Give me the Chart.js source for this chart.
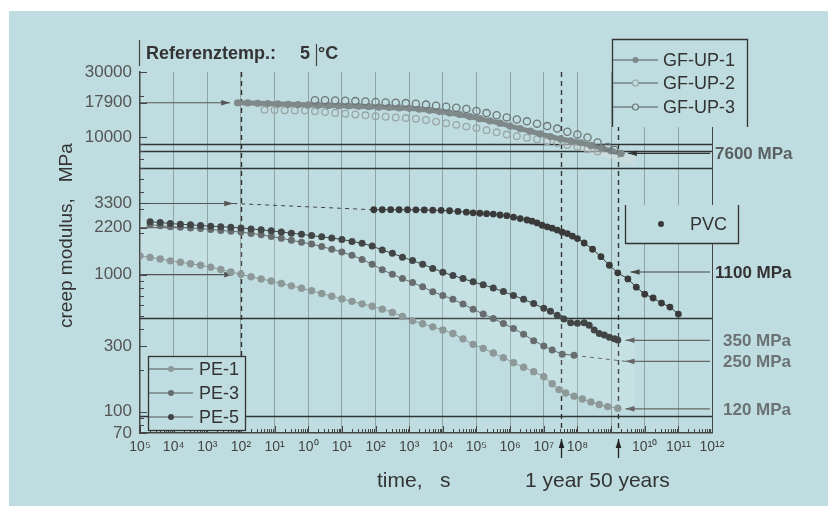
<!DOCTYPE html>
<html>
<head>
<meta charset="utf-8">
<title>Creep modulus</title>
<script src="https://cdn.jsdelivr.net/npm/chart.js@4.4.1/dist/chart.umd.min.js"></script>
<style>
  html, body { margin: 0; padding: 0; background: #fff; }
  #wrap { width: 828px; height: 507px; }
</style>
</head>
<body>
<div id="wrap"><canvas id="creepChart" width="828" height="507"></canvas></div>
<script>
// x values are log10(time in s), y values are creep modulus in MPa
const X_TICK_LABELS = ['10⁵','10⁴','10³','10²','10¹','10⁰','10¹','10²','10³','10⁴','10⁵','10⁶','10⁷','10⁸','','10¹⁰','10¹¹','10¹²'];
const Y_TICKS = [70, 100, 300, 1000, 2200, 3300, 10000, 17900, 30000];

const GF_UP_1 = [
  [-2.1,17900],[-1.8,17850],[-1.5,17750],[-1.2,17650],[-0.9,17550],[-0.6,17450],[-0.3,17350],
  [0.0,17300],[0.3,17200],[0.6,17100],[0.9,17000],[1.2,16950],[1.5,16850],[1.8,16750],[2.1,16650],
  [2.4,16550],[2.7,16400],[3.0,16300],[3.3,16050],[3.6,15800],[3.9,15450],[4.2,15050],[4.5,14700],
  [4.8,14200],[5.1,13700],[5.4,13200],[5.7,12700],[6.0,12100],[6.3,11600],[6.6,11100],[6.9,10600],
  [7.2,10150],[7.5,9750],[7.8,9450],[8.1,9150],[8.4,8750],[8.7,8400],[9.0,8000],[9.3,7650]
];
const GF_UP_2 = [
  [-1.3,15900],[-1.0,15850],[-0.7,15800],[-0.4,15750],[-0.1,15700],[0.2,15500],[0.5,15300],
  [0.8,15100],[1.1,14900],[1.4,14700],[1.7,14500],[2.0,14300],[2.3,14150],[2.6,14000],[2.9,13850],
  [3.2,13700],[3.5,13400],[3.8,13050],[4.1,12700],[4.4,12350],[4.7,12000],[5.0,11700],[5.3,11300],
  [5.6,10900],[5.9,10500],[6.2,10200],[6.5,9950],[6.8,9700],[7.1,9400],[7.4,9100],[7.7,8800],
  [8.0,8500],[8.3,8200],[8.6,7900]
];
const GF_UP_3 = [
  [0.2,18700],[0.5,18650],[0.8,18600],[1.1,18500],[1.4,18400],[1.7,18300],[2.0,18150],[2.3,18000],
  [2.6,17900],[2.9,17800],[3.2,17600],[3.5,17350],[3.8,17050],[4.1,16750],[4.4,16450],[4.7,16100],
  [5.0,15600],[5.3,15050],[5.6,14500],[5.9,14000],[6.2,13500],[6.5,13100],[6.8,12600],[7.1,12100],
  [7.4,11600],[7.7,11000],[8.0,10500],[8.3,10000],[8.6,9200],[8.9,8500],[9.1,8100]
];
const PVC = [
  [1.95,2970],[2.2,2970],[2.45,2975],[2.7,2970],[2.95,2970],[3.2,2965],[3.45,2960],[3.7,2950],
  [3.95,2940],[4.2,2920],[4.45,2890],[4.7,2850],[4.9,2820],[5.1,2800],[5.3,2780],[5.5,2760],
  [5.7,2720],[5.9,2690],[6.1,2620],[6.3,2560],[6.5,2500],[6.65,2450],[6.8,2380],[6.95,2290],
  [7.1,2230],[7.25,2180],[7.4,2110],[7.55,2040],[7.7,1990],[7.85,1910],[8.0,1830],[8.2,1700],
  [8.45,1530],[8.7,1350],[8.95,1170],[9.2,1030],[9.5,930],[9.75,810],[10.0,720],[10.25,675],
  [10.5,620],[10.75,580],[11.0,515]
];
const PE_1 = [
  [-5.0,1370],[-4.7,1335],[-4.4,1300],[-4.1,1260],[-3.8,1230],[-3.5,1200],[-3.2,1170],[-2.9,1130],
  [-2.6,1090],[-2.3,1045],[-2.0,1005],[-1.7,965],[-1.4,930],[-1.1,898],[-0.8,862],[-0.5,828],
  [-0.2,795],[0.1,762],[0.4,728],[0.7,695],[1.0,665],[1.3,638],[1.6,612],[1.9,588],[2.2,560],
  [2.5,530],[2.8,495],[3.1,460],[3.4,438],[3.7,416],[4.0,395],[4.3,372],[4.6,340],[4.9,310],
  [5.2,290],[5.5,268],[5.8,248],[6.1,228],[6.4,211],[6.7,196],[7.0,180],[7.25,160],[7.45,145],
  [7.65,137],[7.9,130],[8.15,124],[8.4,118],[8.65,113],[8.9,109],[9.2,106]
];
const PE_3 = [
  [-4.7,2310],[-4.4,2275],[-4.1,2235],[-3.8,2215],[-3.5,2190],[-3.2,2165],[-2.9,2130],[-2.6,2100],
  [-2.3,2070],[-2.0,2045],[-1.7,1995],[-1.4,1950],[-1.1,1895],[-0.8,1840],[-0.5,1780],[-0.2,1720],
  [0.1,1670],[0.4,1600],[0.7,1530],[1.0,1460],[1.3,1385],[1.6,1290],[1.9,1190],[2.2,1085],
  [2.5,1005],[2.8,935],[3.1,875],[3.4,815],[3.7,750],[4.0,705],[4.3,660],[4.6,610],[4.9,560],
  [5.2,515],[5.5,478],[5.8,440],[6.1,405],[6.4,368],[6.7,330],[7.0,302],[7.25,282],[7.55,263],[7.9,258]
];
const PE_5 = [
  [-4.7,2430],[-4.4,2400],[-4.1,2355],[-3.8,2330],[-3.5,2305],[-3.2,2280],[-2.9,2255],[-2.6,2235],
  [-2.3,2210],[-2.0,2190],[-1.7,2150],[-1.4,2120],[-1.1,2085],[-0.8,2045],[-0.5,2005],[-0.2,1965],
  [0.1,1925],[0.4,1885],[0.7,1845],[1.0,1805],[1.3,1745],[1.6,1690],[1.9,1615],[2.2,1510],
  [2.5,1430],[2.8,1340],[3.1,1265],[3.4,1190],[3.7,1110],[4.0,1040],[4.3,985],[4.6,935],[4.9,885],
  [5.2,842],[5.5,800],[5.8,752],[6.1,705],[6.4,660],[6.7,615],[7.0,568],[7.2,540],[7.4,505],
  [7.6,475],[7.8,445],[8.0,442],[8.2,446],[8.35,428],[8.5,395],[8.65,372],[8.8,362],[8.95,350],
  [9.1,340],[9.2,333]
];

// shaded scatter bands
const PE_BAND_TOP = [[-5,2450],[-2,2230],[0,1980],[2,1560],[4,1040],[6,690],[7.5,490],[8.5,400],[9.7,350]];
const PE_BAND_BOTTOM = [[-5,1340],[-2,1000],[0,770],[2,575],[4,395],[6,232],[7.5,140],[8.5,116],[9.7,101]];
const GF_BAND_TOP = [[7.0,10300],[8.0,9000],[9.0,8000],[9.7,7400]];
const GF_BAND_BOTTOM = [[7.0,9500],[8.0,8200],[9.0,7000],[9.7,6300]];

// annotations
const REF_LINES = [8900, 7900, 5950, 480, 93.5];
const DASHED_TIMES = [-2, 7.5, 9.2];
const ARROW_TIMES = [7.5, 9.2];
const LEFT_ARROWS = [[17900, -2.32], [3300, -2.23], [1000, -2.23]];
const RIGHT_LABELS = ['7600 MPa', '1100 MPa', '350 MPa', '250 MPa', '120 MPa'];
const RIGHT_LEVELS = [7660, 1045, 332, 233, 105];
const RIGHT_TIPS = [9.5, 9.58, 9.43, 9.43, 9.43];

const PANEL = '#bfdde0';
const FONT = '"Liberation Sans", Arial, sans-serif';
const RIGHT_STYLE = [
  { x: 715, color: '#5a6061', arrow: '#333' },
  { x: 715, color: '#333333', arrow: '#444' },
  { x: 723, color: '#6b7273', arrow: '#666' },
  { x: 723, color: '#6b7273', arrow: '#666' },
  { x: 723, color: '#6b7273', arrow: '#666' }
];

const pts = arr => arr.map(([t, e]) => ({ x: t, y: e }));

function dotSeries(label, data, color, radius, line) {
    return {
        label, data: pts(data),
        showLine: line, borderColor: color, borderWidth: 1,
        pointRadius: radius, pointBackgroundColor: color, pointBorderColor: color, pointBorderWidth: 0
    };
}
function ringSeries(label, data, color, radius) {
    return {
        label, data: pts(data), showLine: false,
        pointRadius: radius, pointBackgroundColor: 'rgba(0,0,0,0)', pointBorderColor: color, pointBorderWidth: 1.3
    };
}
function band(data, fill, color) {
    return {
        label: 'band', data: pts(data), borderWidth: 0, borderColor: 'rgba(0,0,0,0)',
        pointRadius: 0, fill, backgroundColor: color, order: 10
    };
}

const gf1 = dotSeries('GF-UP-1', GF_UP_1, '#7f8989', 3.6, true);
gf1.borderWidth = 5;

const datasets = [
    dotSeries('PE-5', PE_5, '#414545', 3.5, true),
    dotSeries('PE-3', PE_3, '#676d6e', 3.5, true),
    dotSeries('PE-1', PE_1, '#8d9898', 3.7, true),
    dotSeries('PVC', PVC, '#3a3a3a', 3.4, true),
    ringSeries('GF-UP-3', GF_UP_3, '#6c7676', 3.6),
    gf1,
    ringSeries('GF-UP-2', GF_UP_2, '#9aa5a5', 3.3),
    band(PE_BAND_BOTTOM, false, 'rgba(0,0,0,0)'),
    band(PE_BAND_TOP, '-1', 'rgba(255,255,255,0.12)'),
    band(GF_BAND_BOTTOM, false, 'rgba(0,0,0,0)'),
    band(GF_BAND_TOP, '-1', 'rgba(214,219,219,0.55)')
];

function seg(c, x1, y1, x2, y2) {
    c.beginPath(); c.moveTo(x1, y1); c.lineTo(x2, y2); c.stroke();
}
function arrow(c, x1, y1, x2, y2) {
    seg(c, x1, y1, x2, y2);
    const a = Math.atan2(y2 - y1, x2 - x1), L = 9, W = 2.8;
    c.beginPath();
    c.moveTo(x2, y2);
    c.lineTo(x2 - L * Math.cos(a) + W * Math.sin(a), y2 - L * Math.sin(a) - W * Math.cos(a));
    c.lineTo(x2 - L * Math.cos(a) - W * Math.sin(a), y2 - L * Math.sin(a) + W * Math.cos(a));
    c.closePath(); c.fill();
}
function legendItem(c, ds, x1, x2, y, textX, ring) {
    c.strokeStyle = '#555'; c.lineWidth = 1;
    seg(c, x1, y, x2, y);
    const mx = (x1 + x2) / 2;
    c.beginPath(); c.arc(mx, y, 3, 0, Math.PI * 2);
    if (ring) {
        c.fillStyle = PANEL; c.fill();
        c.strokeStyle = ds.pointBorderColor; c.lineWidth = 1.2; c.stroke();
    } else {
        c.fillStyle = ds.pointBackgroundColor; c.fill();
    }
    c.fillStyle = '#333'; c.font = '18px ' + FONT; c.textBaseline = 'middle'; c.textAlign = 'left';
    c.fillText(ds.label, textX, y + 1);
}

const decor = {
    id: 'decor',
    beforeDraw(chart) {
        const c = chart.ctx;
        c.save();
        c.fillStyle = '#ffffff'; c.fillRect(0, 0, chart.width, chart.height);
        c.fillStyle = PANEL; c.fillRect(9, 11, chart.width - 9, chart.height - 12);
        c.restore();
    },
    beforeDatasetsDraw(chart) {
        const { ctx: c, scales: { x, y }, chartArea: a } = chart;
        c.save();
        c.strokeStyle = '#2f3434'; c.lineWidth = 1.3;
        REF_LINES.forEach(v => {
            const py = Math.round(y.getPixelForValue(v)) + 0.5;
            seg(c, a.left, py, a.right, py);
        });
        c.setLineDash([5, 4]); c.strokeStyle = '#333'; c.lineWidth = 1.4;
        DASHED_TIMES.forEach(t => {
            const px = Math.round(x.getPixelForValue(t)) + 0.5;
            seg(c, px, a.top, px, a.bottom);
        });
        // dashed continuations
        c.setLineDash([4, 4]); c.lineWidth = 1; c.strokeStyle = '#444';
        seg(c, x.getPixelForValue(LEFT_ARROWS[1][1]), y.getPixelForValue(LEFT_ARROWS[1][0]),
            x.getPixelForValue(PVC[0][0]), y.getPixelForValue(PVC[0][1]));
        const peEnd = PE_3[PE_3.length - 1];
        c.strokeStyle = '#555';
        seg(c, x.getPixelForValue(peEnd[0]), y.getPixelForValue(peEnd[1]),
            x.getPixelForValue(RIGHT_TIPS[3]), y.getPixelForValue(RIGHT_LEVELS[3]));
        c.setLineDash([]);
        // left arrows and 2200 line
        c.strokeStyle = '#555'; c.fillStyle = '#555'; c.lineWidth = 1.2;
        LEFT_ARROWS.forEach(([v, t]) => {
            const py = y.getPixelForValue(v);
            arrow(c, a.left, py, x.getPixelForValue(t), py);
        });
        const p2200 = y.getPixelForValue(2200);
        seg(c, a.left, p2200, x.getPixelForValue(-3.4), p2200);
        c.restore();
    },
    afterDatasetsDraw(chart) {
        const { ctx: c, scales: { x, y }, chartArea: a } = chart;
        const byLabel = l => chart.data.datasets.find(d => d.label === l);
        c.save();

        // minor tick marks
        c.strokeStyle = '#444'; c.lineWidth = 1;
        for (let e = -5; e <= 12; e++) {
            for (let k = 1; k <= 9; k++) {
                const v = e + Math.log10(k);
                if (v > 12) break;
                const px = Math.round(x.getPixelForValue(v)) + 0.5;
                seg(c, px, a.bottom, px, a.bottom - (k === 1 ? 7 : 4));
            }
        }
        for (let n = 1; n <= 4; n++) {
            for (let k = 1; k <= 9; k++) {
                const v = k * Math.pow(10, n);
                if (v < 70 || v > 30000) continue;
                const py = Math.round(y.getPixelForValue(v)) + 0.5;
                seg(c, a.left, py, a.left + 4, py);
            }
        }
        Y_TICKS.forEach(v => {
            const py = Math.round(y.getPixelForValue(v)) + 0.5;
            seg(c, a.left, py, a.left + 7, py);
        });

        // right arrows & labels
        c.font = 'bold 17px ' + FONT; c.textBaseline = 'middle'; c.textAlign = 'left';
        RIGHT_LABELS.forEach((lab, i) => {
            const py = y.getPixelForValue(RIGHT_LEVELS[i]);
            const st = RIGHT_STYLE[i];
            c.strokeStyle = st.arrow; c.fillStyle = st.arrow; c.lineWidth = 1.2;
            arrow(c, a.right - 2, py, x.getPixelForValue(RIGHT_TIPS[i]), py);
            c.fillStyle = st.color;
            c.fillText(lab, st.x, py + 1);
        });

        // up arrows under the axis
        c.strokeStyle = '#222'; c.fillStyle = '#222'; c.lineWidth = 1.3;
        ARROW_TIMES.forEach(t => {
            const px = Math.round(x.getPixelForValue(t)) + 0.5;
            arrow(c, px, a.bottom + 25, px, a.bottom + 6);
        });

        // GF legend (open at the bottom)
        c.fillStyle = PANEL; c.fillRect(612, 39, 135, 88);
        c.strokeStyle = '#333'; c.lineWidth = 1.3;
        c.beginPath(); c.moveTo(612.5, 127); c.lineTo(612.5, 39.5); c.lineTo(747.5, 39.5); c.lineTo(747.5, 127); c.stroke();
        legendItem(c, byLabel('GF-UP-1'), 613, 658, 60, 663, false);
        legendItem(c, byLabel('GF-UP-2'), 613, 658, 83, 663, true);
        legendItem(c, byLabel('GF-UP-3'), 613, 658, 107, 663, true);

        // PVC legend (open at the top)
        c.fillStyle = PANEL; c.fillRect(625, 205, 113, 38);
        c.strokeStyle = '#333'; c.lineWidth = 1.3;
        c.beginPath(); c.moveTo(625.5, 205); c.lineTo(625.5, 243.5); c.lineTo(738.5, 243.5); c.lineTo(738.5, 205); c.stroke();
        c.beginPath(); c.arc(661, 224, 3, 0, Math.PI * 2); c.fillStyle = byLabel('PVC').pointBackgroundColor; c.fill();
        c.fillStyle = '#333'; c.font = '18px ' + FONT; c.textAlign = 'left';
        c.fillText('PVC', 690, 225);

        // PE legend
        c.fillStyle = PANEL; c.fillRect(148, 356, 98, 74);
        c.strokeStyle = '#333'; c.lineWidth = 1.3;
        c.strokeRect(148.5, 356.5, 97, 74);
        legendItem(c, byLabel('PE-1'), 149, 193, 369, 199, false);
        legendItem(c, byLabel('PE-3'), 149, 193, 393, 199, false);
        legendItem(c, byLabel('PE-5'), 149, 193, 417, 199, false);

        // header
        c.strokeStyle = '#444'; c.lineWidth = 1.2;
        seg(c, 139.5, 40, 139.5, 66);
        seg(c, 316.5, 44, 316.5, 66);
        c.fillStyle = '#333'; c.font = 'bold 18px ' + FONT; c.textBaseline = 'middle';
        c.fillText('Referenztemp.:', 146, 54);
        c.fillText('5', 300, 54);
        c.fillText('°C', 318, 54);

        // axis titles
        c.font = '21px ' + FONT; c.fillStyle = '#333';
        c.fillText('time,   s', 377, 481);
        c.fillText('1 year 50 years', 525, 481);
        c.save();
        c.translate(67, 328); c.rotate(-Math.PI / 2);
        c.font = '19px ' + FONT; c.textBaseline = 'middle'; c.textAlign = 'left';
        c.fillText('creep modulus,   MPa', 0, 0);
        c.restore();

        c.restore();
    }
};

new Chart(document.getElementById('creepChart'), {
    type: 'line',
    data: { datasets },
    plugins: [decor],
    options: {
        responsive: false,
        animation: false,
        events: [],
        layout: { padding: { left: 0, top: 72, right: 116, bottom: 0 } },
        elements: { line: { tension: 0 } },
        plugins: { legend: { display: false }, tooltip: { enabled: false } },
        scales: {
            x: {
                type: 'linear', min: -5, max: 12,
                afterFit: s => { s.height = 74; },
                ticks: {
                    stepSize: 1, autoSkip: false, maxRotation: 0, padding: 6,
                    color: '#444', font: { family: FONT, size: 14 },
                    callback: v => X_TICK_LABELS[Math.round(v) + 5]
                },
                grid: {
                    drawTicks: false, lineWidth: 1,
                    color: c => c.tick.value === 12 ? '#444' : (c.tick.value === -5 ? 'rgba(0,0,0,0)' : '#8fa3a5')
                },
                border: { display: true, color: '#444', width: 1.5 }
            },
            y: {
                type: 'logarithmic', min: 70, max: 30000,
                afterFit: s => { s.width = 140; },
                afterBuildTicks: s => { s.ticks = Y_TICKS.map(v => ({ value: v })); },
                ticks: {
                    padding: 8, color: '#555', font: { family: FONT, size: 17 },
                    callback: v => String(v)
                },
                grid: { drawTicks: false, color: 'rgba(0,0,0,0)' },
                border: { display: true, color: '#444', width: 1.5 }
            }
        }
    }
});
</script>
</body>
</html>
